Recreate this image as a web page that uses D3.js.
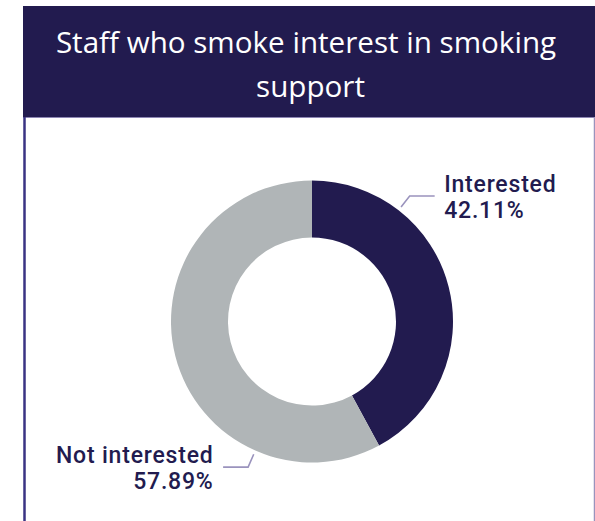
<!DOCTYPE html>
<html>
<head>
<meta charset="utf-8">
<script src="https://cdn.jsdelivr.net/npm/d3@7/dist/d3.min.js"></script>
<style>
  html, body { margin: 0; padding: 0; background: #ffffff; }
  svg { display: block; }
</style>
</head>
<body>
<svg id="chart" width="595" height="521"></svg>
<script>
// Survey result: smokers among staff and whether they want support
const categories = ["Interested", "Not interested"];
const shares = [42.11, 57.89];
const sliceColors = ["#221b4f", "#b0b5b7"];
const titleLines = ["Staff who smoke interest in smoking", "support"];

const svg = d3.select("#chart");
const W = 595, H = 521;
const navy = "#221b4f";

// Panel frame: header band and side borders
const panel = { x: 23, y: 6, w: 572, headH: 111 };
svg.append("rect")
  .attr("x", panel.x).attr("y", panel.y)
  .attr("width", panel.w).attr("height", panel.headH)
  .attr("fill", navy);
svg.append("line")
  .attr("x1", panel.x).attr("x2", panel.x + panel.w)
  .attr("y1", panel.y + panel.headH + 0.5).attr("y2", panel.y + panel.headH + 0.5)
  .attr("stroke", "#8d86b4").attr("stroke-width", 1);
svg.append("line")
  .attr("x1", panel.x + 1.5).attr("x2", panel.x + 1.5)
  .attr("y1", panel.y + panel.headH).attr("y2", H)
  .attr("stroke", "#3a3383").attr("stroke-width", 2.5);
svg.append("line")
  .attr("x1", 594.5).attr("x2", 594.5)
  .attr("y1", panel.y + panel.headH).attr("y2", H)
  .attr("stroke", "#9a93bd").attr("stroke-width", 1.5);

// Title (two centred lines)
const title = svg.append("text")
  .attr("text-anchor", "middle")
  .attr("fill", "#ffffff")
  .style("font-family", "'Open Sans', 'Noto Sans', sans-serif")
  .style("font-weight", 400)
  .style("font-size", "29.6px");
title.selectAll("tspan")
  .data(titleLines)
  .join("tspan")
  .attr("x", (d, i) => i === 0 ? 306 : 310.5)
  .attr("y", (d, i) => 53 + i * 44)
  .text(d => d);

// Donut
const cx = 312, cy = 321.5, outerR = 141, innerR = 84;
const g = svg.append("g").attr("transform", `translate(${cx},${cy})`);

const pie = d3.pie().sort(null).value(d => d.value);
const arcs = pie(categories.map((c, i) => ({ name: c, value: shares[i] })));
const arc = d3.arc().innerRadius(innerR).outerRadius(outerR);
const color = d3.scaleOrdinal().domain(categories).range(sliceColors);

g.selectAll("path.slice")
  .data(arcs)
  .join("path")
  .attr("class", "slice")
  .attr("d", arc)
  .attr("fill", d => color(d.data.name));

// Leader lines and labels: each leader leaves its slice a quarter of the way in
arcs.forEach((a, i) => {
  const side = i === 0 ? 1 : -1;
  const ang = a.startAngle + (a.endAngle - a.startAngle) * 0.25;
  const p0 = [Math.sin(ang) * (outerR + 4), -Math.cos(ang) * (outerR + 4)];
  const p1 = [Math.sin(ang) * (outerR + 18), -Math.cos(ang) * (outerR + 18)];
  const p2 = [p1[0] + side * 25, p1[1]];
  g.append("polyline")
    .attr("points", [p0, p1, p2].map(p => p.join(",")).join(" "))
    .attr("fill", "none")
    .attr("stroke", "#9a93bd")
    .attr("stroke-width", 1.6);

  const tx = p2[0] + side * 9.5;
  const lbl = g.append("text")
    .attr("text-anchor", side > 0 ? "start" : "end")
    .attr("fill", navy)
    .style("font-family", "Roboto, 'Noto Sans', sans-serif")
    .style("font-weight", 500)
    .style("font-size", "23px")
    .style("letter-spacing", "0.8px");
  const baseY = p2[1] - 4.5;
  lbl.append("tspan").attr("x", tx).attr("y", baseY).text(a.data.name);
  lbl.append("tspan").attr("x", tx).attr("y", baseY + 26.5)
    .text(d3.format(".2f")(a.data.value) + "%");
});
</script>
</body>
</html>
